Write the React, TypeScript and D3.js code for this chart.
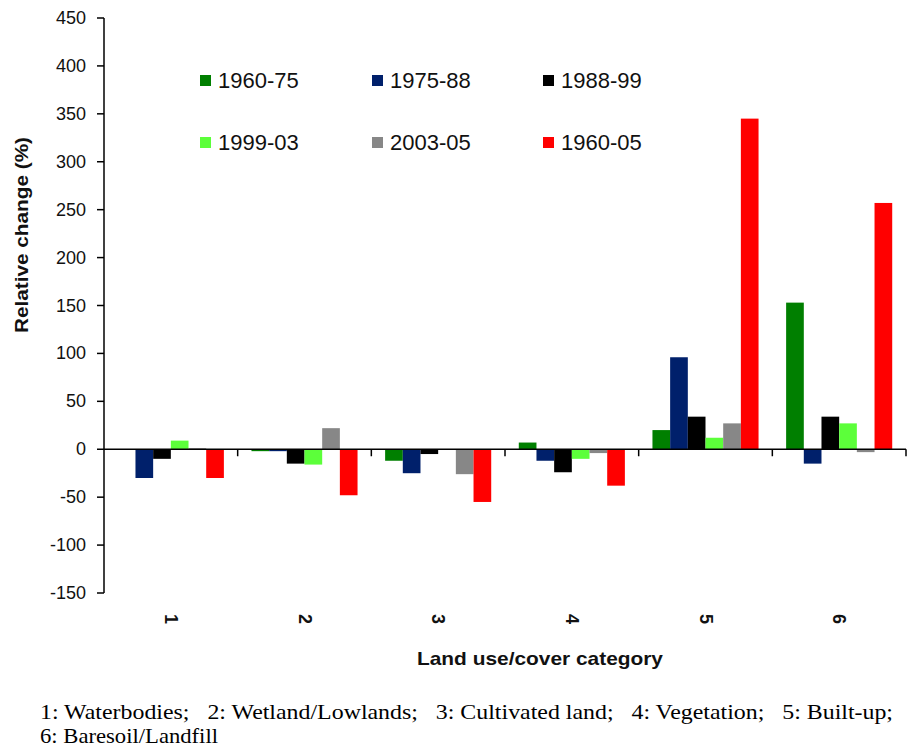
import React from "react";
import * as d3 from "d3";

const categories = ["1", "2", "3", "4", "5", "6"];
const seriesNames = ["1960-75", "1975-88", "1988-99", "1999-03", "2003-05", "1960-05"];
const seriesColors = ["#007f00", "#00206b", "#000000", "#5cff3a", "#878787", "#ff0000"];
const v1960_75 = [0, -2, -12, 7, 20, 153];
const v1975_88 = [-30, -2, -25, -12, 96, -15];
const v1988_99 = [-10, -15, -5, -24, 34, 34];
const v1999_03 = [9, -16, 0, -10, 12, 27];
const v2003_05 = [1, 22, -26, -4, 27, -3];
const v1960_05 = [-30, -48, -55, -38, 345, 257];
const seriesValues = [v1960_75, v1975_88, v1988_99, v1999_03, v2003_05, v1960_05];
const yTicks = [-150, -100, -50, 0, 50, 100, 150, 200, 250, 300, 350, 400, 450];
const captionLine1 = "1: Waterbodies;   2: Wetland/Lowlands;   3: Cultivated land;   4: Vegetation;   5: Built-up;";
const captionLine2 = "6: Baresoil/Landfill";

export default function App() {
  const W = 910, H = 748;
  const left = 104, right = 906, top = 18, bottom = 593;
  const y = d3.scaleLinear().domain([-150, 450]).range([bottom, top]);
  const x0 = d3.scaleBand().domain(categories).range([left, right]).paddingInner(0).paddingOuter(0);
  const x1 = d3.scaleBand().domain(seriesNames).range([0, x0.bandwidth()]).paddingInner(0).paddingOuter(0.78);
  const y0 = y(0);
  const sans = "'Liberation Sans', Arial, sans-serif";
  const serif = "'Liberation Serif', 'Times New Roman', serif";
  const legendCols = [200, 372, 543];
  const legendRows = [75, 137];

  return (
    <svg width={W} height={H} style={{ display: "block", position: "absolute", left: 0, top: 0, background: "#fff" }} fontFamily={sans}>
      <rect x={0} y={0} width={W} height={H} fill="#fff" />
      {categories.map((c, ci) => (
        <g key={c} transform={`translate(${x0(c)},0)`}>
          {seriesNames.map((s, si) => {
            const v = seriesValues[si][ci];
            const yy = y(Math.max(0, v));
            const h = Math.abs(y(v) - y0);
            return <rect key={s} x={x1(s)} y={yy} width={x1.bandwidth()} height={h} fill={seriesColors[si]} />;
          })}
        </g>
      ))}
      <line x1={left} x2={left} y1={top} y2={bottom} stroke="#000" strokeWidth={1.5} />
      {yTicks.map((t) => (
        <g key={t}>
          <line x1={left - 7} x2={left} y1={y(t)} y2={y(t)} stroke="#000" strokeWidth={1.5} />
          <text x={86} y={y(t)} textAnchor="end" dominantBaseline="central" fontSize={18} fill="#111">{t}</text>
        </g>
      ))}
      <line x1={left} x2={right} y1={y0} y2={y0} stroke="#000" strokeWidth={1.5} />
      {categories.map((c) => (
        <line key={c} x1={(x0(c) as number) + x0.bandwidth()} x2={(x0(c) as number) + x0.bandwidth()} y1={y0} y2={y0 + 7} stroke="#000" strokeWidth={1.5} />
      ))}
      {categories.map((c) => (
        <text key={c} transform={`translate(${(x0(c) as number) + x0.bandwidth() / 2},619) rotate(90)`} textAnchor="middle" dominantBaseline="central" fontSize={18} fontWeight="bold" fill="#111">{c}</text>
      ))}
      <text x={540} y={665} textAnchor="middle" fontSize={19} fontWeight="bold" textLength={246} lengthAdjust="spacingAndGlyphs" fill="#111">Land use/cover category</text>
      <text transform="translate(28,235) rotate(-90)" textAnchor="middle" fontSize={19} fontWeight="bold" textLength={196} lengthAdjust="spacingAndGlyphs" fill="#111">Relative change (%)</text>
      {seriesNames.map((s, i) => {
        const lx = legendCols[i % 3];
        const ly = legendRows[Math.floor(i / 3)];
        return (
          <g key={s}>
            <rect x={lx} y={ly} width={11} height={11} fill={seriesColors[i]} />
            <text x={lx + 18} y={ly + 13} fontSize={22} fill="#111">{s}</text>
          </g>
        );
      })}
      <text x={40} y={719} fontFamily={serif} fontSize={22} style={{ whiteSpace: "pre" }} textLength={853} lengthAdjust="spacingAndGlyphs" fill="#000">{captionLine1}</text>
      <text x={40} y={743} fontFamily={serif} fontSize={22} textLength={178} lengthAdjust="spacingAndGlyphs" fill="#000">{captionLine2}</text>
    </svg>
  );
}
